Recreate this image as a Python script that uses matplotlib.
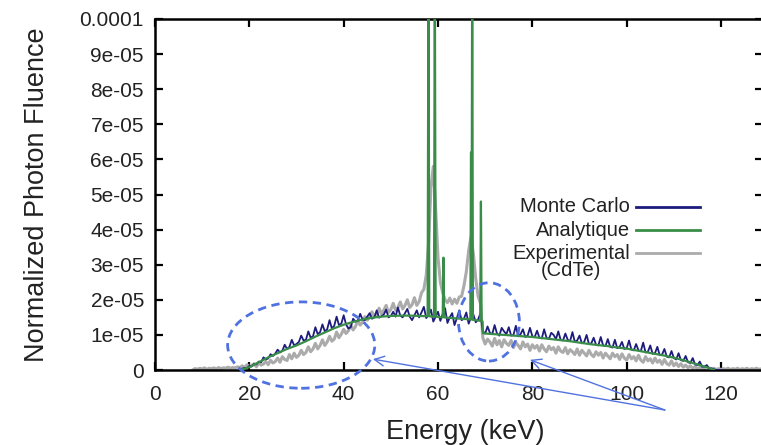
import numpy as np
import matplotlib.pyplot as plt
from matplotlib.patches import Ellipse
from matplotlib.lines import Line2D

plt.rcParams['font.family'] = ['Liberation Sans', 'DejaVu Sans']

#### DATA (values in units of 1e-5) ####
# Analytique: smooth continuum plus narrow characteristic lines
ana_e = [18, 20, 22, 24, 26, 28, 30, 32, 34, 36, 38, 40, 42, 44, 46, 48, 50, 52, 54, 56,
         57.8, 57.98, 58.15, 59.15, 59.32, 59.5, 61.0, 61.15, 61.3, 62, 64, 66,
         66.85, 67.0, 67.1, 67.25, 67.4, 68, 68.95, 69.1, 69.25, 69.45, 69.5,
         70, 72, 74, 76, 78, 80, 82, 84, 86, 88, 90, 92, 94, 96, 98, 100,
         102, 104, 106, 108, 110, 112, 114, 116, 118, 118.5]
ana_v = [0.0, 0.08, 0.22, 0.36, 0.48, 0.60, 0.70, 0.82, 0.95, 1.07, 1.19, 1.29, 1.37, 1.44, 1.49, 1.52, 1.54, 1.55, 1.55, 1.54,
         1.53, 12.0, 1.53, 1.52, 12.0, 1.52, 1.50, 3.2, 1.50, 1.49, 1.47, 1.45,
         1.44, 6.2, 1.44, 12.0, 1.43, 1.42, 1.40, 4.8, 1.39, 1.38, 1.05,
         1.04, 1.02, 1.00, 0.98, 0.96, 0.94, 0.91, 0.88, 0.85, 0.82, 0.78, 0.74, 0.71, 0.68, 0.64, 0.61,
         0.56, 0.51, 0.46, 0.41, 0.35, 0.28, 0.20, 0.12, 0.03, 0.0]

# Monte Carlo: 0.5 keV bins from 18 to 120 keV
mc_e = np.arange(18.0, 120.01, 0.5)
mc_v = [0.00, 0.04, 0.06, 0.05, 0.12,
        0.10, 0.17, 0.16, 0.24, 0.22, 0.36, 0.30, 0.33, 0.45, 0.40,
        0.47, 0.58, 0.50, 0.55, 0.72, 0.60, 0.66, 0.86, 0.70, 0.74,
        0.80, 0.98, 0.84, 0.86, 1.10, 0.92, 0.96, 1.22, 1.02, 1.08,
        1.30, 1.10, 1.16, 1.42, 1.18, 1.26, 1.52, 1.28, 1.32, 1.56,
        1.30, 1.18, 1.22, 1.46, 1.38, 1.40, 1.60, 1.44, 1.42, 1.52,
        1.62, 1.46, 1.50, 1.70, 1.49, 1.53, 1.58, 1.72, 1.50, 1.54,
        1.66, 1.52, 1.78, 1.55, 1.50, 1.62, 1.74, 1.52, 1.42, 1.56,
        1.70, 1.50, 1.64, 1.80, 1.48, 1.56, 1.72, 1.38, 1.52, 1.66,
        1.40, 1.60, 1.76, 1.34, 1.50, 1.62, 1.28, 1.48, 1.70, 1.42,
        1.46, 1.64, 1.32, 1.50, 1.58, 1.36, 1.44, 1.62,
        1.10, 1.04, 1.24, 1.06, 1.02, 1.28, 1.04, 0.98, 1.20, 1.10, 1.02, 1.22,
        0.98, 1.00, 1.26, 0.96, 1.02, 1.16, 0.94, 0.98, 1.20, 0.96,
        0.94, 1.12, 0.92, 0.90, 1.16, 0.92, 0.88, 1.06, 1.00, 0.88,
        1.10, 0.86, 0.84, 1.04, 0.86, 0.82, 1.08, 0.80, 0.84, 0.98,
        0.76, 0.80, 1.00, 0.74, 0.76, 0.92, 0.72, 0.70, 0.94, 0.70,
        0.68, 0.88, 0.66, 0.64, 0.86, 0.62, 0.66, 0.80, 0.60, 0.62,
        0.84, 0.58, 0.56, 0.74, 0.56, 0.54, 0.78, 0.50, 0.52, 0.70,
        0.46, 0.48, 0.66, 0.42, 0.44, 0.60, 0.38, 0.36, 0.54, 0.34,
        0.30, 0.48, 0.28, 0.26, 0.40, 0.22, 0.20, 0.34, 0.16, 0.14,
        0.24, 0.09, 0.10, 0.14, 0.03, 0.05, 0.02, 0.00, 0.00, 0.00]

# Experimental (CdTe): 0.5 keV bins from 8 to 129 keV
exp_e = np.arange(8.0, 129.01, 0.5)
exp_v = [0.00, 0.04, 0.02, 0.05, 0.03, 0.06, 0.02, 0.05, 0.04, 0.06, 0.03, 0.07, 0.04, 0.06, 0.05, 0.08,
         0.05, 0.07, 0.06, 0.09, 0.07,
         0.12, 0.07, 0.15, 0.10, 0.13, 0.18, 0.09, 0.20, 0.14, 0.17, 0.24, 0.15, 0.28, 0.20,
         0.24, 0.34, 0.22, 0.38, 0.30, 0.27, 0.44, 0.32, 0.48, 0.36,
         0.42, 0.56, 0.44, 0.50, 0.66, 0.52, 0.60, 0.76, 0.60, 0.70,
         0.86, 0.70, 0.80, 0.96, 0.82, 0.88, 1.08, 0.92, 1.02, 1.16,
         1.04, 1.12, 1.28, 1.14, 1.24, 1.40, 1.28, 1.36, 1.52, 1.42,
         1.50, 1.66, 1.52, 1.58, 1.76, 1.60, 1.70, 1.84, 1.64, 1.72,
         1.90, 1.70, 1.78, 1.94, 1.74, 1.84, 2.00, 1.78, 1.86, 2.06, 1.84, 1.95,
         2.20, 2.30, 2.70, 3.60, 5.20, 5.80, 4.60, 3.20, 2.50, 2.20, 2.00, 1.92, 2.05, 1.88, 2.02,
         1.90, 2.08, 2.10, 2.40, 2.80, 3.40, 3.80, 3.30, 2.60, 2.10, 1.90,
         0.92, 0.74, 0.88, 0.80, 0.68, 0.90, 0.72, 0.84, 0.66, 0.86, 0.76, 0.70,
         0.84, 0.64, 0.78, 0.70, 0.60, 0.80, 0.66, 0.74, 0.56, 0.72,
         0.62, 0.70, 0.54, 0.72, 0.60, 0.52, 0.68, 0.58, 0.64, 0.48,
         0.66, 0.54, 0.50, 0.64, 0.46, 0.58, 0.52, 0.44, 0.60, 0.42,
         0.56, 0.48, 0.40, 0.56, 0.44, 0.38, 0.52, 0.42, 0.50, 0.34,
         0.48, 0.40, 0.32, 0.48, 0.38, 0.44, 0.30, 0.46, 0.34, 0.28,
         0.44, 0.32, 0.38, 0.26, 0.42, 0.28, 0.22, 0.38, 0.26, 0.32,
         0.20, 0.34, 0.22, 0.28, 0.16, 0.30, 0.18, 0.14, 0.26, 0.12,
         0.20, 0.10, 0.18, 0.08, 0.14, 0.06, 0.12, 0.04, 0.10, 0.03,
         0.08, 0.02, 0.06, -0.20,
         0.06, 0.01, 0.05, 0.01, 0.04, 0.01, 0.04, 0.02, 0.05, 0.01, 0.04, 0.02,
         0.05, 0.01, 0.04, 0.02, 0.05, 0.01, 0.04, 0.02, 0.05, 0.02, 0.03, 0.01]

xticks = [0, 20, 40, 60, 80, 100, 120]
yticks = [0, 1e-5, 2e-5, 3e-5, 4e-5, 5e-5, 6e-5, 7e-5, 8e-5, 9e-5, 1e-4]
ytick_labels = ['0', '1e-05', '2e-05', '3e-05', '4e-05', '5e-05', '6e-05', '7e-05', '8e-05', '9e-05', '0.0001']

# highlighted regions: (centre keV, centre value, width keV, height value)
ellipses = [(31.0, 0.71e-5, 31.2, 2.46e-5), (70.8, 1.37e-5, 12.9, 2.23e-5)]
arrow_tail = (108.1, -1.14e-5)
arrow_heads = [(46.2, 0.31e-5), (79.5, 0.29e-5)]

c_mc = '#1c1c7e'
c_ana = '#3a8d48'
c_exp = '#ababab'
c_mark = '#5072e0'
txt = '#222222'

fig = plt.figure(figsize=(7.61, 4.45), dpi=100)
ax = fig.add_axes([155/761, 75/445, 608/761, 351/445])

s = 1e-5
ax.plot(exp_e, np.array(exp_v)*s, color=c_exp, lw=2.2, zorder=2)
ax.plot(mc_e, np.array(mc_v)*s, color=c_mc, lw=1.3, zorder=3)
ax.plot(ana_e, np.array(ana_v)*s, color=c_ana, lw=1.6, zorder=4)

for cx, cy, w, h in ellipses:
    ax.add_patch(Ellipse((cx, cy), w, h, fill=False, ec=c_mark, lw=2, ls=(0, (3, 2)),
                         clip_on=False, zorder=5))
for hx, hy in arrow_heads:
    ax.annotate('', xy=(hx, hy), xytext=arrow_tail, annotation_clip=False,
                arrowprops=dict(arrowstyle='->,head_length=0.7,head_width=0.35',
                                color=c_mark, lw=1.0, shrinkA=0, shrinkB=0), zorder=6)

ax.set_xlim(0, 128.9)
ax.set_ylim(0, 1e-4)
ax.set_xticks(xticks)
ax.set_yticks(yticks)
ax.set_yticklabels(ytick_labels)
ax.tick_params(direction='in', length=6, width=1.6, top=True, right=True,
               labelsize=15, labelcolor=txt, colors='black')
ax.tick_params(axis='x', pad=11)
ax.tick_params(axis='y', pad=8)
for sp in ax.spines.values():
    sp.set_linewidth(1.8)

ax.set_xlabel('Energy (keV)', fontsize=19.5, color=txt)
ax.xaxis.set_label_coords((465-155)/608, (370-432)/351)
ax.xaxis.label.set_va('center')
ax.set_ylabel('Normalized Photon Fluence', fontsize=19.5, color=txt)
ax.yaxis.set_label_coords((37-155)/608, (370-195)/351)
ax.yaxis.label.set_va('center')

# key drawn by hand: labels right-aligned left of their samples
def fx(px):
    return px / 761
def fy(py):
    return 1 - py / 445

key = [('Monte Carlo', c_mc, 207, 207), ('Analytique', c_ana, 230, 230),
       ('Experimental\n(CdTe)', c_exp, 253, 262)]
for lab, col, py, ty in key:
    fig.text(fx(630), fy(ty), lab, ha='right', va='center', multialignment='center',
             linespacing=0.85, fontsize=14.5, color=txt)
    fig.add_artist(Line2D([fx(636), fx(700)], [fy(py), fy(py)], color=col, lw=2))

fig.savefig('out.png', dpi=100)
